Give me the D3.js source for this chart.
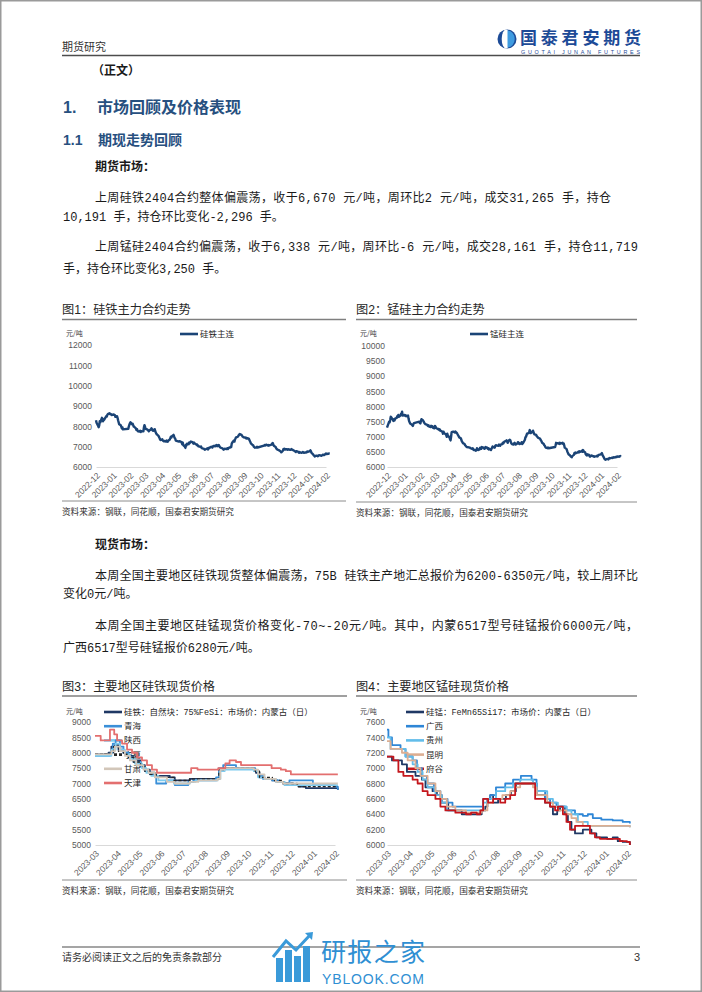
<!DOCTYPE html>
<html><head><meta charset="utf-8">
<script src="https://cdn.jsdelivr.net/npm/d3@7"></script>
<style>body{margin:0;background:#fff}svg{display:block}</style>
</head><body>
<svg id="page" width="702" height="992"></svg>
<script>
// ---------------- DATA ----------------
const futDates = ["2022-12-01","2022-12-02","2022-12-05","2022-12-06","2022-12-07","2022-12-08","2022-12-09","2022-12-12","2022-12-13","2022-12-14","2022-12-15","2022-12-16","2022-12-19","2022-12-20","2022-12-21","2022-12-22","2022-12-23","2022-12-26","2022-12-27","2022-12-28","2022-12-29","2022-12-30",
"2023-01-03","2023-01-04","2023-01-05","2023-01-06","2023-01-09","2023-01-10","2023-01-11","2023-01-12","2023-01-13","2023-01-16","2023-01-17","2023-01-18","2023-01-19","2023-01-20","2023-01-30","2023-01-31",
"2023-02-01","2023-02-02","2023-02-03","2023-02-06","2023-02-07","2023-02-08","2023-02-09","2023-02-10","2023-02-13","2023-02-14","2023-02-15","2023-02-16","2023-02-17","2023-02-20","2023-02-21","2023-02-22","2023-02-23","2023-02-24","2023-02-27","2023-02-28",
"2023-03-01","2023-03-02","2023-03-03","2023-03-06","2023-03-07","2023-03-08","2023-03-09","2023-03-10","2023-03-13","2023-03-14","2023-03-15","2023-03-16","2023-03-17","2023-03-20","2023-03-21","2023-03-22","2023-03-23","2023-03-24","2023-03-27","2023-03-28","2023-03-29","2023-03-30","2023-03-31",
"2023-04-03","2023-04-04","2023-04-06","2023-04-07","2023-04-10","2023-04-11","2023-04-12","2023-04-13","2023-04-14","2023-04-17","2023-04-18","2023-04-19","2023-04-20","2023-04-21","2023-04-24","2023-04-25","2023-04-26","2023-04-27","2023-04-28",
"2023-05-04","2023-05-05","2023-05-08","2023-05-09","2023-05-10","2023-05-11","2023-05-12","2023-05-15","2023-05-16","2023-05-17","2023-05-18","2023-05-19","2023-05-22","2023-05-23","2023-05-24","2023-05-25","2023-05-26","2023-05-29","2023-05-30","2023-05-31",
"2023-06-01","2023-06-02","2023-06-05","2023-06-06","2023-06-07","2023-06-08","2023-06-09","2023-06-12","2023-06-13","2023-06-14","2023-06-15","2023-06-16","2023-06-19","2023-06-20","2023-06-21","2023-06-26","2023-06-27","2023-06-28","2023-06-29","2023-06-30",
"2023-07-03","2023-07-04","2023-07-05","2023-07-06","2023-07-07","2023-07-10","2023-07-11","2023-07-12","2023-07-13","2023-07-14","2023-07-17","2023-07-18","2023-07-19","2023-07-20","2023-07-21","2023-07-24","2023-07-25","2023-07-26","2023-07-27","2023-07-28","2023-07-31",
"2023-08-01","2023-08-02","2023-08-03","2023-08-04","2023-08-07","2023-08-08","2023-08-09","2023-08-10","2023-08-11","2023-08-14","2023-08-15","2023-08-16","2023-08-17","2023-08-18","2023-08-21","2023-08-22","2023-08-23","2023-08-24","2023-08-25","2023-08-28","2023-08-29","2023-08-30","2023-08-31",
"2023-09-01","2023-09-04","2023-09-05","2023-09-06","2023-09-07","2023-09-08","2023-09-11","2023-09-12","2023-09-13","2023-09-14","2023-09-15","2023-09-18","2023-09-19","2023-09-20","2023-09-21","2023-09-22","2023-09-25","2023-09-26","2023-09-27",
"2023-10-09","2023-10-10","2023-10-11","2023-10-12","2023-10-13","2023-10-16","2023-10-17","2023-10-18","2023-10-19","2023-10-20","2023-10-23","2023-10-24","2023-10-25","2023-10-26","2023-10-27","2023-10-30","2023-10-31",
"2023-11-01","2023-11-02","2023-11-03","2023-11-06","2023-11-07","2023-11-08","2023-11-09","2023-11-10","2023-11-13","2023-11-14","2023-11-15","2023-11-16","2023-11-17","2023-11-20","2023-11-21","2023-11-22","2023-11-23","2023-11-24","2023-11-27","2023-11-28","2023-11-29","2023-11-30",
"2023-12-01","2023-12-04","2023-12-05","2023-12-06","2023-12-07","2023-12-08","2023-12-11","2023-12-12","2023-12-13","2023-12-14","2023-12-15","2023-12-18","2023-12-19","2023-12-20","2023-12-21","2023-12-22","2023-12-25","2023-12-26","2023-12-27","2023-12-28","2023-12-29",
"2024-01-02","2024-01-03","2024-01-04","2024-01-05","2024-01-08","2024-01-09","2024-01-10","2024-01-11","2024-01-12","2024-01-15","2024-01-16","2024-01-17","2024-01-18","2024-01-19","2024-01-22","2024-01-23","2024-01-24","2024-01-25","2024-01-26","2024-01-29","2024-01-30","2024-01-31",
"2024-02-01","2024-02-02","2024-02-05","2024-02-06","2024-02-07","2024-02-08"];

const sfMain = [8300,8180,8020,7960,8050,8250,8200,8420,8380,8250,8300,8320,8450,8500,8480,8560,8600,8640,8620,8590,8600,8560,
8580,8560,8550,8470,8500,8420,8300,8200,8100,8050,7980,7900,7950,7850,7880,8000,
8080,8150,8200,8100,8130,8060,7990,7980,7900,7820,7870,7800,7760,7740,7780,7720,7760,7750,7760,7950,
8060,7980,7880,7850,7820,7800,7760,7800,7850,7900,7860,7800,7780,7860,7760,7700,7640,7600,7530,7480,7420,7350,7330,
7360,7300,7260,7280,7250,7300,7270,7240,7290,7350,7420,7490,7450,7520,7580,7500,7430,7400,7300,
7250,7270,7240,7200,7120,7200,7080,7000,6940,7100,7060,7150,7120,7200,7180,7220,7250,7220,7180,7150,
7200,7160,7120,7080,7100,7060,7020,7000,6980,7010,6950,6920,6900,6880,6850,6920,6860,6900,6950,6940,
7000,6980,6960,7000,7040,7020,7060,7040,7080,7020,7080,7020,6980,6960,6940,6920,6880,6850,6880,6900,6880,
6900,6920,6880,6940,6960,7000,6980,7150,7200,7300,7250,7350,7400,7460,7480,7520,7560,7600,7620,7580,7550,7500,7480,
7460,7450,7420,7440,7400,7420,7380,7320,7260,7200,7150,7080,7060,7000,6980,6950,6960,7000,6960,
7050,7080,7060,7080,7100,7060,7080,7050,7070,7080,7100,7150,7180,7120,7050,7000,6950,
6900,6880,6850,6820,6800,6780,6760,6720,6800,6880,6860,6900,6860,6880,6850,6870,6880,6860,6840,6860,6880,6850,
6840,6800,6780,6760,6740,6780,6760,6720,6700,6740,6720,6700,6720,6740,6720,6700,6720,6710,6730,6760,6740,
6780,6820,6780,6700,6620,6580,6560,6520,6540,6560,6550,6530,6560,6580,6570,6550,6560,6580,6600,6590,6620,6640,
6660,6640,6650,6660,6670,6670];

const smMain = [7300,7350,7500,7480,7560,7660,7640,7560,7520,7580,7540,7600,7620,7680,7650,7720,7660,7700,7760,7720,7830,7700,
7720,7690,7700,7680,7700,7600,7520,7480,7440,7400,7380,7360,7420,7450,7500,7460,
7440,7520,7580,7540,7500,7470,7440,7420,7400,7380,7360,7380,7340,7320,7360,7330,7350,7300,7280,7360,
7340,7300,7280,7250,7260,7220,7240,7200,7180,7150,7100,7170,7120,7080,7050,7000,7100,7040,6980,6920,6880,7000,7150,
7170,7160,7140,7170,7120,7080,7050,7020,6980,6950,6900,6850,6820,6790,6760,6720,6700,6680,6660,
6640,6620,6600,6620,6580,6560,6570,6540,6560,6620,6600,6560,6580,6640,6620,6600,6660,6640,6620,6600,
6620,6660,6640,6600,6620,6580,6600,6560,6600,6640,6680,6660,6640,6700,6720,6700,6740,6720,6700,6740,
6760,6800,6780,6820,6840,6860,6880,6840,6800,6860,6900,6880,6820,6780,6760,6740,6780,6800,6760,6740,6780,
6820,6780,6800,6760,6780,6820,6760,6780,6800,6900,6980,7000,7050,7100,7120,7160,7220,7180,7120,7160,7200,7150,7100,
7080,7060,7020,7000,6980,6960,6940,6900,6880,6840,6800,6760,6720,6700,6660,6640,6620,6640,6620,
6660,6720,6800,6780,6790,6770,6800,6760,6790,6780,6800,6760,6780,6720,6640,6600,6560,
6500,6460,6420,6380,6350,6340,6320,6360,6400,6460,6440,6480,6460,6480,6500,6480,6520,6500,6520,6540,6500,6560,
6520,6480,6420,6400,6380,6420,6400,6360,6340,6360,6380,6370,6350,6360,6340,6350,6360,6370,6350,6380,6400,
6420,6440,6460,6400,6300,6260,6250,6240,6260,6270,6250,6280,6300,6290,6300,6310,6300,6320,6310,6330,6320,6340,
6330,6350,6340,6350,6360,6338];

const futTicks = ["2022-12-01","2023-01-01","2023-02-01","2023-03-01","2023-04-01","2023-05-01","2023-06-01","2023-07-01","2023-08-01","2023-09-01","2023-10-01","2023-11-01","2023-12-01","2024-01-01","2024-02-01"];
const spotTicks = ["2023-03-01","2023-04-01","2023-05-01","2023-06-01","2023-07-01","2023-08-01","2023-09-01","2023-10-01","2023-11-01","2023-12-01","2024-01-01","2024-02-01"];

// Figure 3: ferrosilicon spot (step series)
const fsNames = ["硅铁：自然块：75%FeSi：市场价：内蒙古（日）","青海","陕西","宁夏","甘肃","天津"];
const fsNmgDates = ["2023-03-01","2023-03-20","2023-03-24","2023-03-29","2023-04-03","2023-04-10","2023-04-17","2023-04-24","2023-05-04","2023-05-10","2023-05-17","2023-05-24","2023-06-14","2023-06-21","2023-07-12","2023-08-22","2023-08-28","2023-10-10","2023-10-13","2023-10-18","2023-10-25","2023-11-05","2023-11-12","2023-11-20","2023-12-04","2023-12-12","2023-12-22","2024-02-02","2024-02-05"];
const fsNmgVals  = [7950,8000,8200,8250,8100,8000,7900,7750,7600,7450,7350,7250,7200,7100,7150,7400,7500,7450,7350,7200,7150,7100,7050,7000,6950,6900,6850,6850,6800];
const fsQhDates = ["2023-03-01","2023-03-22","2023-03-26","2023-03-30","2023-04-05","2023-04-10","2023-04-17","2023-04-24","2023-05-04","2023-05-10","2023-05-17","2023-05-26","2023-06-09","2023-06-21","2023-07-10","2023-07-17","2023-08-18","2023-08-22","2023-08-28","2023-09-15","2023-10-12","2023-10-16","2023-10-23","2023-11-05","2023-11-15","2023-11-22","2023-11-29","2024-01-01","2024-02-01","2024-02-05"];
const fsQhVals  = [7900,8000,8300,8400,8200,8000,7850,7700,7550,7400,7300,7000,7100,6950,7050,7100,7200,7500,7600,7500,7400,7250,7150,7100,7050,7000,7100,6950,6900,6800];
const fsSxDates = ["2023-03-01","2023-03-24","2023-03-30","2023-04-05","2023-04-12","2023-04-19","2023-04-26","2023-05-06","2023-05-12","2023-05-19","2023-05-29","2023-06-20","2023-07-12","2023-07-20","2023-08-20","2023-08-24","2023-08-30","2023-10-10","2023-10-16","2023-10-25","2023-11-10","2023-11-22","2024-02-05"];
const fsSxVals  = [7900,8100,8300,8100,7950,7800,7650,7500,7350,7250,7100,7000,7050,7100,7150,7400,7450,7400,7200,7150,7050,6950,6950];
const fsNxDates = ["2023-03-01","2023-03-22","2023-03-27","2023-04-03","2023-04-10","2023-04-17","2023-04-24","2023-05-04","2023-05-10","2023-05-17","2023-05-26","2023-06-20","2023-07-12","2023-08-22","2023-08-28","2023-10-12","2023-10-18","2023-11-05","2023-11-20","2023-12-10","2024-02-05"];
const fsNxVals  = [7950,8000,8200,8050,7950,7850,7700,7550,7400,7300,7200,7100,7150,7450,7500,7400,7200,7100,7000,6900,6900];
const fsGsDates = ["2023-03-01","2023-03-24","2023-03-29","2023-04-05","2023-04-12","2023-04-19","2023-04-28","2023-05-08","2023-05-15","2023-05-24","2023-06-10","2023-06-21","2023-07-12","2023-07-24","2023-08-20","2023-08-24","2023-08-30","2023-10-10","2023-10-16","2023-10-25","2023-11-10","2023-11-20","2024-02-05"];
const fsGsVals  = [7950,8050,8200,8050,7900,7750,7600,7450,7350,7200,7050,7000,7050,7100,7150,7450,7500,7450,7300,7150,7050,7000,7000];
const fsTjDates = ["2023-03-01","2023-03-09","2023-03-22","2023-03-28","2023-04-01","2023-04-08","2023-04-15","2023-04-22","2023-04-29","2023-05-06","2023-05-13","2023-05-20","2023-05-27","2023-07-14","2023-07-23","2023-08-21","2023-08-31","2023-09-06","2023-09-15","2023-09-22","2023-11-04","2023-11-17","2023-11-24","2023-12-01","2024-02-05"];
const fsTjVals  = [8550,8400,8750,8600,8400,8300,8100,8000,7850,7750,7600,7450,7350,7500,7450,7500,7650,7750,7700,7600,7500,7450,7400,7300,7300];

// Figure 4: silicomanganese spot (step series)
const smNames = ["硅锰：FeMn65Si17：市场价：内蒙古（日）","广西","贵州","昆明","府谷"];
const smNmgDates = ["2023-03-01","2023-03-08","2023-03-22","2023-03-29","2023-04-10","2023-04-19","2023-04-24","2023-05-04","2023-05-10","2023-05-17","2023-05-26","2023-06-14","2023-07-12","2023-07-17","2023-07-20","2023-07-24","2023-07-28","2023-08-04","2023-08-15","2023-08-22","2023-08-29","2023-09-27","2023-10-09","2023-10-16","2023-10-20","2023-10-26","2023-10-30","2023-11-06","2023-11-10","2023-11-15","2023-11-20","2023-12-01","2023-12-13","2023-12-20","2024-01-04","2024-01-12","2024-01-19","2024-01-26","2024-02-05"];
const smNmgVals  = [7150,7100,7050,6950,6900,6850,6750,6700,6650,6550,6450,6400,6450,6500,6600,6650,6550,6600,6650,6700,6800,6650,6550,6500,6400,6450,6500,6400,6300,6200,6150,6200,6150,6100,6080,6100,6050,6040,6000];
const smGxDates = ["2023-03-01","2023-03-03","2023-03-08","2023-03-20","2023-03-27","2023-04-06","2023-04-12","2023-04-19","2023-04-26","2023-05-06","2023-05-15","2023-05-25","2023-06-01","2023-07-14","2023-07-24","2023-08-01","2023-08-14","2023-08-25","2023-09-05","2023-09-20","2023-09-27","2023-10-09","2023-10-16","2023-10-25","2023-11-08","2023-11-20","2023-12-01","2023-12-08","2023-12-15","2023-12-27","2024-01-12","2024-01-26","2024-02-05"];
const smGxVals  = [7500,7400,7300,7250,7150,7100,7000,6900,6800,6700,6600,6550,6500,6600,6650,6750,6800,6850,6900,6850,6700,6600,6550,6500,6450,6400,6380,6400,6350,6330,6320,6300,6280];
const smGzDates = ["2023-03-01","2023-03-06","2023-03-27","2023-04-06","2023-04-13","2023-04-20","2023-04-27","2023-05-08","2023-05-17","2023-05-24","2023-07-14","2023-07-21","2023-08-01","2023-08-14","2023-08-25","2023-09-04","2023-09-22","2023-09-27","2023-10-12","2023-10-20","2023-10-27","2023-11-08","2023-11-15","2023-11-24","2023-12-08","2024-02-05"];
const smGzVals  = [7400,7250,7150,7050,6950,6850,6750,6650,6550,6450,6550,6600,6700,6750,6800,6850,6800,6700,6600,6550,6500,6450,6400,6300,6250,6230];
const smKmDates = ["2023-03-01","2023-03-06","2023-03-22","2023-03-30","2023-04-10","2023-04-17","2023-04-27","2023-05-08","2023-05-15","2023-05-24","2023-06-05","2023-06-20","2023-07-12","2023-07-20","2023-07-28","2023-08-10","2023-08-21","2023-08-28","2023-09-04","2023-09-22","2023-09-27","2023-10-12","2023-10-20","2023-10-27","2023-11-08","2023-11-15","2023-11-22","2023-12-01","2024-02-05"];
const smKmVals  = [7350,7250,7200,7100,7000,6900,6800,6700,6600,6500,6450,6420,6450,6550,6600,6650,6700,6750,6800,6750,6650,6550,6500,6450,6400,6350,6300,6250,6230];
const smFgDates = ["2023-03-01","2023-03-10","2023-03-17","2023-03-24","2023-04-06","2023-04-13","2023-04-20","2023-04-27","2023-05-08","2023-05-15","2023-05-22","2023-06-05","2023-06-20","2023-06-27","2023-07-05","2023-07-10","2023-07-14","2023-07-21","2023-07-28","2023-08-07","2023-08-14","2023-08-21","2023-08-28","2023-09-25","2023-10-09","2023-10-16","2023-10-23","2023-10-27","2023-11-03","2023-11-08","2023-11-13","2023-11-20","2023-12-11","2023-12-18","2023-12-25","2024-01-22","2024-02-01","2024-02-05"];
const smFgVals  = [7150,7100,6950,6900,6850,6800,6700,6650,6600,6500,6450,6420,6400,6420,6400,6450,6600,6550,6600,6550,6600,6650,6800,6600,6550,6500,6450,6500,6400,6300,6200,6250,6150,6100,6080,6050,6040,6000];

// ---------------- RENDER ----------------
const svg = d3.select("#page");
const parse = d3.timeParse("%Y-%m-%d");
const CJK = '"Noto Sans CJK SC", sans-serif';
const MONO = '"Liberation Mono", "Noto Sans CJK SC", monospace';
const SANS = '"Liberation Sans", "Noto Sans CJK SC", sans-serif';

svg.append("rect").attr("x",0.75).attr("y",0.75).attr("width",700.5).attr("height",990.5)
  .attr("fill","#fff").attr("stroke","#9a9a9a").attr("stroke-width",1.5);

function txt(x, y, s, o = {}) {
  const t = svg.append("text").attr("x", x).attr("y", y).text(s)
    .attr("font-family", o.ff || CJK).attr("font-size", o.fs || 12)
    .attr("fill", o.fill || "#1a1a1a");
  if (o.fw) t.attr("font-weight", o.fw);
  if (o.anchor) t.attr("text-anchor", o.anchor);
  if (o.len) t.attr("textLength", o.len).attr("lengthAdjust", "spacing");
  return t;
}
function hline(x1, x2, y, c, w) {
  svg.append("line").attr("x1",x1).attr("x2",x2).attr("y1",y).attr("y2",y).attr("stroke",c).attr("stroke-width",w);
}

// header
txt(62, 51, "期货研究", {fs: 11, fill: "#333"});
const logo = svg.append("g");
logo.append("circle").attr("cx",507).attr("cy",39).attr("r",9.5).attr("fill","#1d4b97");
logo.append("ellipse").attr("cx",506).attr("cy",39).attr("rx",4.3).attr("ry",9.4).attr("fill","#fff");
logo.append("path").attr("d","M507.5,30.6 A7.2,8.4 0 0 1 507.5,47.4 Z").attr("fill","#3f9be0");
txt(520, 44, "国泰君安期货", {fs: 17, fw: 700, fill: "#1d4b97", len: 121});
txt(521, 53.5, "GUOTAI JUNAN FUTURES", {ff: SANS, fs: 5.4, fill: "#1d4b97", len: 119});
hline(62, 640, 55.5, "#4d4d4d", 1.3);

txt(92, 75, "（正文）", {fs: 12, fw: 700});
txt(63, 113, "1.", {ff: SANS, fs: 16, fw: 700, fill: "#27507f"});
txt(97, 113, "市场回顾及价格表现", {fs: 16, fw: 700, fill: "#27507f"});
txt(63, 145, "1.1", {ff: SANS, fs: 14, fw: 700, fill: "#27507f"});
txt(98, 145, "期现走势回顾", {fs: 14, fw: 700, fill: "#27507f"});
txt(95, 171, "期货市场：", {fs: 12, fw: 700});

txt(95, 201.5, "上周硅铁2404合约整体偏震荡，收于6,670 元/吨，周环比2 元/吨，成交31,265 手，持仓", {ff: MONO, len: 516});
txt(63, 220.5, "10,191 手，持仓环比变化-2,296 手。", {ff: MONO});
txt(95, 250.5, "上周锰硅2404合约偏震荡，收于6,338 元/吨，周环比-6 元/吨，成交28,161 手，持仓11,719", {ff: MONO, len: 543});
txt(63, 272.5, "手，持仓环比变化3,250 手。", {ff: MONO});

txt(95, 548.5, "现货市场：", {fs: 12, fw: 700});
txt(95, 579.5, "本周全国主要地区硅铁现货整体偏震荡，75B 硅铁主产地汇总报价为6200-6350元/吨，较上周环比", {ff: MONO, len: 543});
txt(63, 597.5, "变化0元/吨。", {ff: MONO});
txt(95, 629.5, "本周全国主要地区硅锰现货价格变化-70~-20元/吨。其中，内蒙6517型号硅锰报价6000元/吨，", {ff: MONO, len: 543});
txt(63, 651.5, "广西6517型号硅锰报价6280元/吨。", {ff: MONO});

// ---------------- charts ----------------
function chart(o) {
  const g = svg.append("g");
  const x = d3.scaleTime().domain(o.xDomain.map(parse)).range(o.xRange);
  const y = d3.scaleLinear().domain(o.yDomain).range(o.yRange);

  txt(o.left, o.titleY, o.title, {ff: SANS, fs: 12.2, fill: "#262626"});
  hline(o.left, o.right, o.titleY + 5.5, "#7f7f7f", 1.6);
  hline(o.left, o.right, o.bottomY, "#8c8c8c", 1);
  txt(o.left, o.bottomY + 14, "资料来源：钢联，同花顺，国泰君安期货研究", {fs: 8.6, fill: "#333"});
  txt(o.left + 4, o.unitY, "元/吨", {fs: 7, fill: "#404040"});

  const gy = g.append("g").attr("transform", `translate(${o.xRange[0]},0)`)
    .call(d3.axisLeft(y).tickValues(o.yTicks).tickSize(0).tickPadding(o.yPad || 4).tickFormat(d3.format("d")));
  gy.select(".domain").remove();
  gy.selectAll("text").attr("font-family", SANS).attr("font-size", 8.5).attr("fill", "#595959");

  const gx = g.append("g").attr("transform", `translate(0,${o.yRange[0]})`)
    .call(d3.axisBottom(x).tickValues(o.xTicks.map(parse)).tickFormat(d3.timeFormat("%Y-%m")).tickSize(0).tickSizeOuter(0));
  gx.select(".domain").attr("stroke", "#d9d9d9").attr("stroke-width", 1);
  gx.selectAll("text").attr("font-family", SANS).attr("font-size", 8.5).attr("fill", "#595959")
    .attr("text-anchor", "end").attr("x", 0).attr("y", 0).attr("dy", "0.35em")
    .attr("transform", "translate(2,7) rotate(-45)");

  o.series.forEach((s, i) => {
    const ly = o.legY + i * o.legStep;
    g.append("line").attr("x1", o.legX).attr("x2", o.legX + 18).attr("y1", ly).attr("y2", ly)
      .attr("stroke", s.color).attr("stroke-width", 2.6).attr("stroke-dasharray", s.dash || null);
    g.append("text").attr("x", o.legX + 20).attr("y", ly + 3).text(s.name)
      .attr("font-family", MONO).attr("font-size", 8.5).attr("fill", "#262626");
  });

  const line = d3.line().x(d => x(d.date)).y(d => y(d.v)).curve(o.curve || d3.curveLinear);
  o.series.forEach(s => {
    const data = s.dates.map((d, i) => ({date: parse(d), v: s.values[i]}));
    g.append("path").datum(data).attr("d", line).attr("fill", "none")
      .attr("stroke", s.color).attr("stroke-width", s.width || 1.8)
      .attr("stroke-linejoin", "round").attr("stroke-dasharray", s.dash || null);
  });
}

chart({
  title: "图1：硅铁主力合约走势", left: 62, right: 346, titleY: 314, bottomY: 501, unitY: 336,
  xDomain: ["2022-12-01", "2024-02-01"], xRange: [96, 326], xTicks: futTicks,
  yDomain: [6000, 12000], yRange: [467, 345], yTicks: d3.range(6000, 12001, 1000), yPad: 4,
  legX: 180, legY: 334, legStep: 14,
  series: [{name: "硅铁主连", dates: futDates, values: sfMain, color: "#1b4476", width: 2.4}]
});
chart({
  title: "图2：锰硅主力合约走势", left: 356, right: 637, titleY: 314, bottomY: 502, unitY: 336,
  xDomain: ["2022-12-01", "2024-02-01"], xRange: [387, 617], xTicks: futTicks,
  yDomain: [6000, 10000], yRange: [467, 346], yTicks: d3.range(6000, 10001, 500), yPad: 2,
  legX: 470, legY: 334, legStep: 14,
  series: [{name: "锰硅主连", dates: futDates, values: smMain, color: "#1b4476", width: 2.4}]
});
chart({
  title: "图3：主要地区硅铁现货价格", left: 62, right: 347, titleY: 690.5, bottomY: 880, unitY: 714,
  xDomain: ["2023-03-01", "2024-02-01"], xRange: [95, 335], xTicks: spotTicks,
  yDomain: [5000, 9000], yRange: [845, 722], yTicks: d3.range(5000, 9001, 500), yPad: 4,
  legX: 104, legY: 712, legStep: 14.2, curve: d3.curveStepAfter,
  series: [
    {name: fsNames[0], dates: fsNmgDates, values: fsNmgVals, color: "#1f3864"},
    {name: fsNames[1], dates: fsQhDates, values: fsQhVals, color: "#3a8fd8"},
    {name: fsNames[2], dates: fsSxDates, values: fsSxVals, color: "#7dcbef"},
    {name: fsNames[3], dates: fsNxDates, values: fsNxVals, color: "#262626", dash: "3,2", width: 1.4},
    {name: fsNames[4], dates: fsGsDates, values: fsGsVals, color: "#d2c6b9"},
    {name: fsNames[5], dates: fsTjDates, values: fsTjVals, color: "#e36f6f"}
  ]
});
chart({
  title: "图4：主要地区锰硅现货价格", left: 356, right: 637, titleY: 690.5, bottomY: 880, unitY: 714,
  xDomain: ["2023-03-01", "2024-02-01"], xRange: [387, 627], xTicks: spotTicks,
  yDomain: [6000, 7600], yRange: [845, 722], yTicks: d3.range(6000, 7601, 200), yPad: 2,
  legX: 406, legY: 712, legStep: 14.2, curve: d3.curveStepAfter,
  series: [
    {name: smNames[0], dates: smNmgDates, values: smNmgVals, color: "#1f3864"},
    {name: smNames[1], dates: smGxDates, values: smGxVals, color: "#2e86d6"},
    {name: smNames[2], dates: smGzDates, values: smGzVals, color: "#62bdea"},
    {name: smNames[3], dates: smKmDates, values: smKmVals, color: "#dcae92"},
    {name: smNames[4], dates: smFgDates, values: smFgVals, color: "#c4161c"}
  ]
});

// footer
hline(62, 640, 947, "#4d4d4d", 1.2);
txt(62, 961, "请务必阅读正文之后的免责条款部分", {fs: 10, fill: "#333"});
txt(640, 961, "3", {ff: SANS, fs: 11, fill: "#333", anchor: "end"});
const yb = svg.append("g");
[[276, 958, 7, 24], [285, 950, 7, 32], [294, 956, 7, 26], [303, 946, 7, 36]].forEach(b =>
  yb.append("rect").attr("x", b[0]).attr("y", b[1]).attr("width", b[2]).attr("height", b[3]).attr("fill", "#3a9ad9"));
yb.append("path").attr("d", "M273,957 L286,941 L296,950 L311,934").attr("fill", "none").attr("stroke", "#3a9ad9").attr("stroke-width", 3);
yb.append("path").attr("d", "M305,933 L313,932 L312,940 Z").attr("fill", "#3a9ad9");
txt(321, 960.5, "研报之家", {fs: 25, fill: "#2f8fd3", len: 104});
txt(322, 984, "YBLOOK.COM", {ff: SANS, fs: 14, fill: "#2f8fd3", len: 102});
</script>
</body></html>
